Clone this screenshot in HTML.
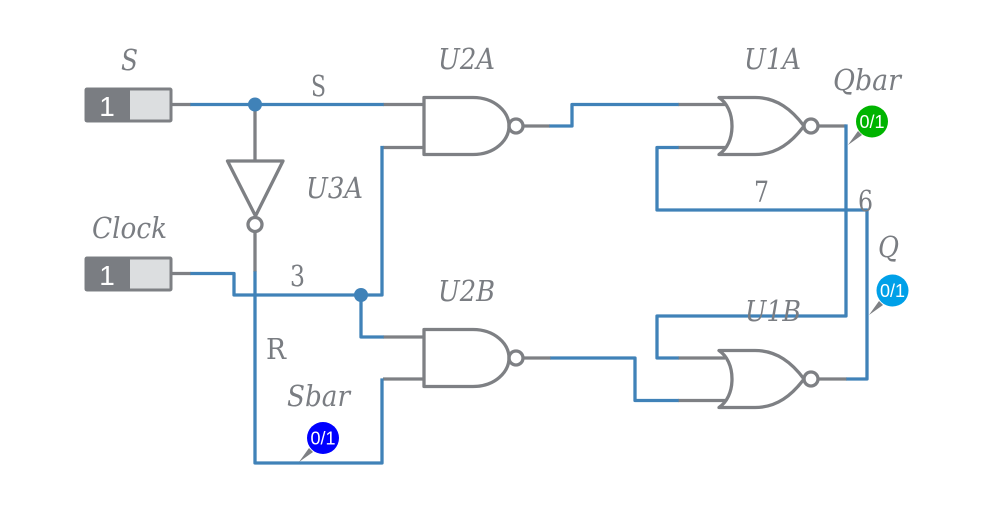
<!DOCTYPE html>
<html><head><meta charset="utf-8"><style>
html,body{margin:0;padding:0;background:#fff;width:994px;height:510px;overflow:hidden}
svg{display:block}
text{font-family:"DejaVu Serif","Liberation Serif",serif;fill:#7a7d82;font-size:28.5px}
.i{font-style:italic}
.p{font-family:"Liberation Sans",sans-serif;fill:#fff;font-size:18px;text-anchor:middle}
.n{font-family:"Liberation Sans",sans-serif;fill:#fff;font-size:28px;text-anchor:middle}
.b{fill:none;stroke:#4082b8;stroke-width:3.3;stroke-linejoin:round;stroke-linecap:square}
.g{fill:none;stroke:#7e8084;stroke-width:3.3;stroke-linejoin:round;stroke-linecap:butt}
</style></head><body>
<svg width="994" height="510" viewBox="0 0 994 510" xmlns="http://www.w3.org/2000/svg">
<!-- gray wire stubs -->
<path class="g" d="M171 104.500H191M383 104.500H424M255 104.500V161M171 273.500H191M255 232V272M383 147.500H424M383 337H424M383 379H424M523 126H550M678 104.500H725M678 147.500H725M818 126H846M523 358H551M678 358H725M678 400.500H725M818 379H847"/>
<!-- blue wires -->
<path class="b" d="M192 104.500H382"/>
<path class="b" d="M192 273.500H234V295H382V147.500"/>
<path class="b" d="M255 273V463H382V380"/>
<path class="b" d="M361 295V337H382"/>
<path class="b" d="M551 126H572V104.500H677"/>
<path class="b" d="M846 126V316H657V358H677"/>
<path class="b" d="M677 147.500H657V210H867V379H848"/>
<path class="b" d="M552 358H635V400.500H677"/>
<circle cx="255" cy="104.500" r="7" fill="#4082b8"/>
<circle cx="361" cy="295" r="7" fill="#4082b8"/>
<!-- switches -->
<rect x="86" y="89" width="85" height="32" rx="1" fill="#dcdee0" stroke="#7e8084" stroke-width="3"/>
<rect x="85" y="88" width="45" height="34" rx="1" fill="#7a7d82"/>
<text class="n" x="107" y="116">1</text>
<rect x="86" y="258" width="85" height="32" rx="1" fill="#dcdee0" stroke="#7e8084" stroke-width="3"/>
<rect x="85" y="257" width="45" height="34" rx="1" fill="#7a7d82"/>
<text class="n" x="107" y="285">1</text>
<!-- inverter -->
<path class="g" d="M227.500 161H283L255.500 216Z"/>
<circle class="g" cx="255" cy="224.500" r="7"/>
<!-- NAND gates -->
<path class="g" d="M424 97.500H473C495 97.500 509 112 509 126C509 140 495 154.500 473 154.500H424Z"/>
<circle class="g" cx="516" cy="126" r="7"/>
<path class="g" d="M424 329.500H473C495 329.500 509 344 509 358C509 372 495 386.500 473 386.500H424Z"/>
<circle class="g" cx="516" cy="358" r="7"/>
<!-- NOR gates -->
<path class="g" d="M719 97.500H755C777 97.500 792 110 804 126C792 142 777 154.500 755 154.500H719C727 149 732 139 732 126C732 113 727 103 719 97.500Z"/>
<circle class="g" cx="811" cy="126" r="7"/>
<path class="g" d="M719 350.500H755C777 350.500 792 363 804 379C792 395 777 407.500 755 407.500H719C727 402 732 392 732 379C732 366 727 356 719 350.500Z"/>
<circle class="g" cx="811" cy="379" r="7"/>
<!-- probes -->
<path d="M848 145L858 131L862 135Z" fill="#7e8084"/>
<circle cx="872" cy="121.500" r="16" fill="#00b400"/>
<text class="p" x="872" y="128">0/1</text>
<path d="M869 315L879 301L883 305Z" fill="#7e8084"/>
<circle cx="892.500" cy="290.500" r="16" fill="#00a0e8"/>
<text class="p" x="892.500" y="297">0/1</text>
<path d="M299 462L309 448L313 452Z" fill="#7e8084"/>
<circle cx="323" cy="438" r="16" fill="#0000ff"/>
<text class="p" x="323" y="444.500">0/1</text>
<!-- labels -->
<text class="i" x="121" y="70" textLength="17" lengthAdjust="spacingAndGlyphs">S</text>
<text class="i" x="92" y="238" textLength="75" lengthAdjust="spacingAndGlyphs">Clock</text>
<text class="i" x="438" y="69" textLength="57" lengthAdjust="spacingAndGlyphs">U2A</text>
<text class="i" x="744" y="69" textLength="57" lengthAdjust="spacingAndGlyphs">U1A</text>
<text class="i" x="833" y="90" textLength="68" lengthAdjust="spacingAndGlyphs">Qbar</text>
<text class="i" x="306" y="198" textLength="57" lengthAdjust="spacingAndGlyphs">U3A</text>
<text class="i" x="438" y="301" textLength="57" lengthAdjust="spacingAndGlyphs">U2B</text>
<text class="i" x="745" y="321" textLength="56" lengthAdjust="spacingAndGlyphs">U1B</text>
<text class="i" x="287" y="406" textLength="63" lengthAdjust="spacingAndGlyphs">Sbar</text>
<text class="i" x="878" y="257" textLength="21" lengthAdjust="spacingAndGlyphs">Q</text>
<text x="311" y="96" textLength="15" lengthAdjust="spacingAndGlyphs">S</text>
<text x="754" y="202" textLength="15" lengthAdjust="spacingAndGlyphs">7</text>
<text x="858" y="211" textLength="15" lengthAdjust="spacingAndGlyphs">6</text>
<text x="290" y="286" textLength="15" lengthAdjust="spacingAndGlyphs">3</text>
<text x="266" y="359" textLength="20" lengthAdjust="spacingAndGlyphs">R</text>
</svg>
</body></html>
